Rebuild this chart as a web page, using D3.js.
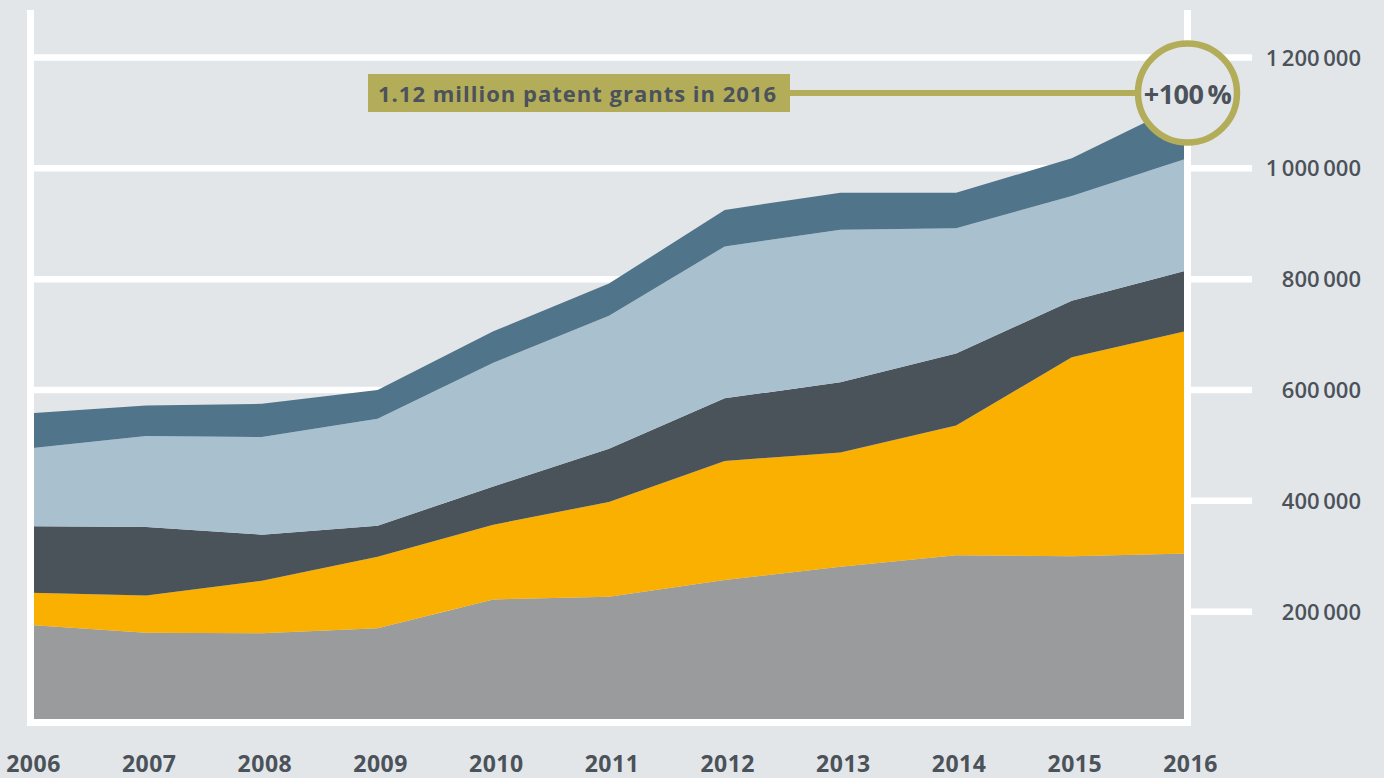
<!DOCTYPE html>
<html>
<head>
<meta charset="utf-8">
<script src="https://cdn.jsdelivr.net/npm/d3@7"></script>
<style>
  body { margin: 0; background: #e2e6e9; }
  text { font-family: "Open Sans", "Noto Sans", sans-serif; fill: #4b525a; }
</style>
</head>
<body>
<div id="chart"></div>
<script>
// patent grants per office, thousands
const years = [2006, 2007, 2008, 2009, 2010, 2011, 2012, 2013, 2014, 2015, 2016]
const usa   = [176, 162, 161, 170, 222, 227, 257, 281, 302, 300, 305]
const china = [58, 67, 95, 129, 135, 171, 215, 206, 234, 359, 402]
const korea = [120, 124, 83, 56, 69, 96, 113, 127, 130, 102, 109]
const japan = [141, 164, 176, 193, 223, 240, 274, 275, 226, 189, 202]
const epo   = [63, 55, 60, 52, 57, 58, 66, 67, 64, 68, 102]
const yTicks = [200000, 400000, 600000, 800000, 1000000, 1200000]

const keys = ['usa', 'china', 'korea', 'japan', 'epo']
const colors = {
    usa: '#9a9b9d',
    china: '#f9b000',
    korea: '#4a525a',
    japan: '#a9c1cf',
    epo: '#50748a'
}

function draw() {
    const dataset = years.map((year, i) => ({
        year,
        usa: usa[i] * 1000,
        china: china[i] * 1000,
        korea: korea[i] * 1000,
        japan: japan[i] * 1000,
        epo: epo[i] * 1000
    }))

    const dimensions = { width: 1384, height: 778 }
    const bg = '#e2e6e9'
    const olive = '#b3ad5a'

    const svg = d3.select('#chart')
        .append('svg')
        .attr('width', dimensions.width)
        .attr('height', dimensions.height)

    const xScale = d3.scaleLinear()
        .domain(d3.extent(years))
        .range([30.5, 1187.5])

    const yScale = d3.scaleLinear()
        .domain([0, 1200000])
        .range([722.5, 57.5])

    // gridlines, run out past the right frame as ticks
    svg.append('g')
        .selectAll('line')
        .data(yTicks)
        .join('line')
        .attr('x1', xScale(2006))
        .attr('x2', 1252)
        .attr('y1', d => yScale(d))
        .attr('y2', d => yScale(d))
        .attr('stroke', '#fff')
        .attr('stroke-width', 6.5)

    const fmt = d => d3.format(',')(d).replace(/,/g, '\u2009')

    svg.append('g')
        .selectAll('text')
        .data(yTicks)
        .join('text')
        .attr('x', 1361)
        .attr('y', d => yScale(d) + 8)
        .attr('text-anchor', 'end')
        .attr('font-size', 22)
        .attr('font-weight', 600)
        .text(fmt)

    // stacked areas
    const series = d3.stack().keys(keys)(dataset)

    const areaGenerator = d3.area()
        .x(d => xScale(d.data.year))
        .y0(d => yScale(d[0]))
        .y1(d => yScale(d[1]))

    svg.append('g')
        .selectAll('path')
        .data(series)
        .join('path')
        .attr('d', areaGenerator)
        .attr('fill', d => colors[d.key])

    // white frame: left, right and bottom
    const frame = svg.append('g')
        .attr('stroke', '#fff')
        .attr('stroke-width', 7)
    frame.append('line')
        .attr('x1', xScale(2006)).attr('x2', xScale(2006))
        .attr('y1', 10).attr('y2', yScale(0) + 3.5)
    frame.append('line')
        .attr('x1', xScale(2016)).attr('x2', xScale(2016))
        .attr('y1', 10).attr('y2', yScale(0) + 3.5)
    frame.append('line')
        .attr('x1', xScale(2006) - 3.5).attr('x2', xScale(2016) + 3.5)
        .attr('y1', yScale(0)).attr('y2', yScale(0))

    // year labels
    svg.append('g')
        .selectAll('text')
        .data(years)
        .join('text')
        .attr('x', d => xScale(d) + 3)
        .attr('y', 772)
        .attr('text-anchor', 'middle')
        .attr('font-size', 23)
        .attr('font-weight', 700)
        .attr('letter-spacing', 0.5)
        .text(d => d)

    // annotation
    const total2016 = d3.sum(keys, k => dataset[dataset.length - 1][k])
    const cx = xScale(2016)
    const cy = 93

    svg.append('line')
        .attr('x1', 789).attr('x2', cx - 49)
        .attr('y1', cy).attr('y2', cy)
        .attr('stroke', olive)
        .attr('stroke-width', 6)

    svg.append('rect')
        .attr('x', 368).attr('y', 74)
        .attr('width', 422).attr('height', 38)
        .attr('fill', olive)

    svg.append('text')
        .attr('x', 378).attr('y', 102)
        .attr('font-size', 22)
        .attr('font-weight', 700)
        .attr('letter-spacing', 1)
        .text(`${d3.format('.2f')(total2016 / 1e6)} million patent grants in 2016`)

    svg.append('circle')
        .attr('cx', cx).attr('cy', cy)
        .attr('r', 49.5)
        .attr('fill', bg)
        .attr('stroke', olive)
        .attr('stroke-width', 6.5)

    svg.append('text')
        .attr('x', cx).attr('y', cy + 11)
        .attr('text-anchor', 'middle')
        .attr('font-size', 27)
        .attr('font-weight', 700)
        .attr('letter-spacing', -0.5)
        .text('+100\u2009%')
}

draw()
</script>
</body>
</html>
